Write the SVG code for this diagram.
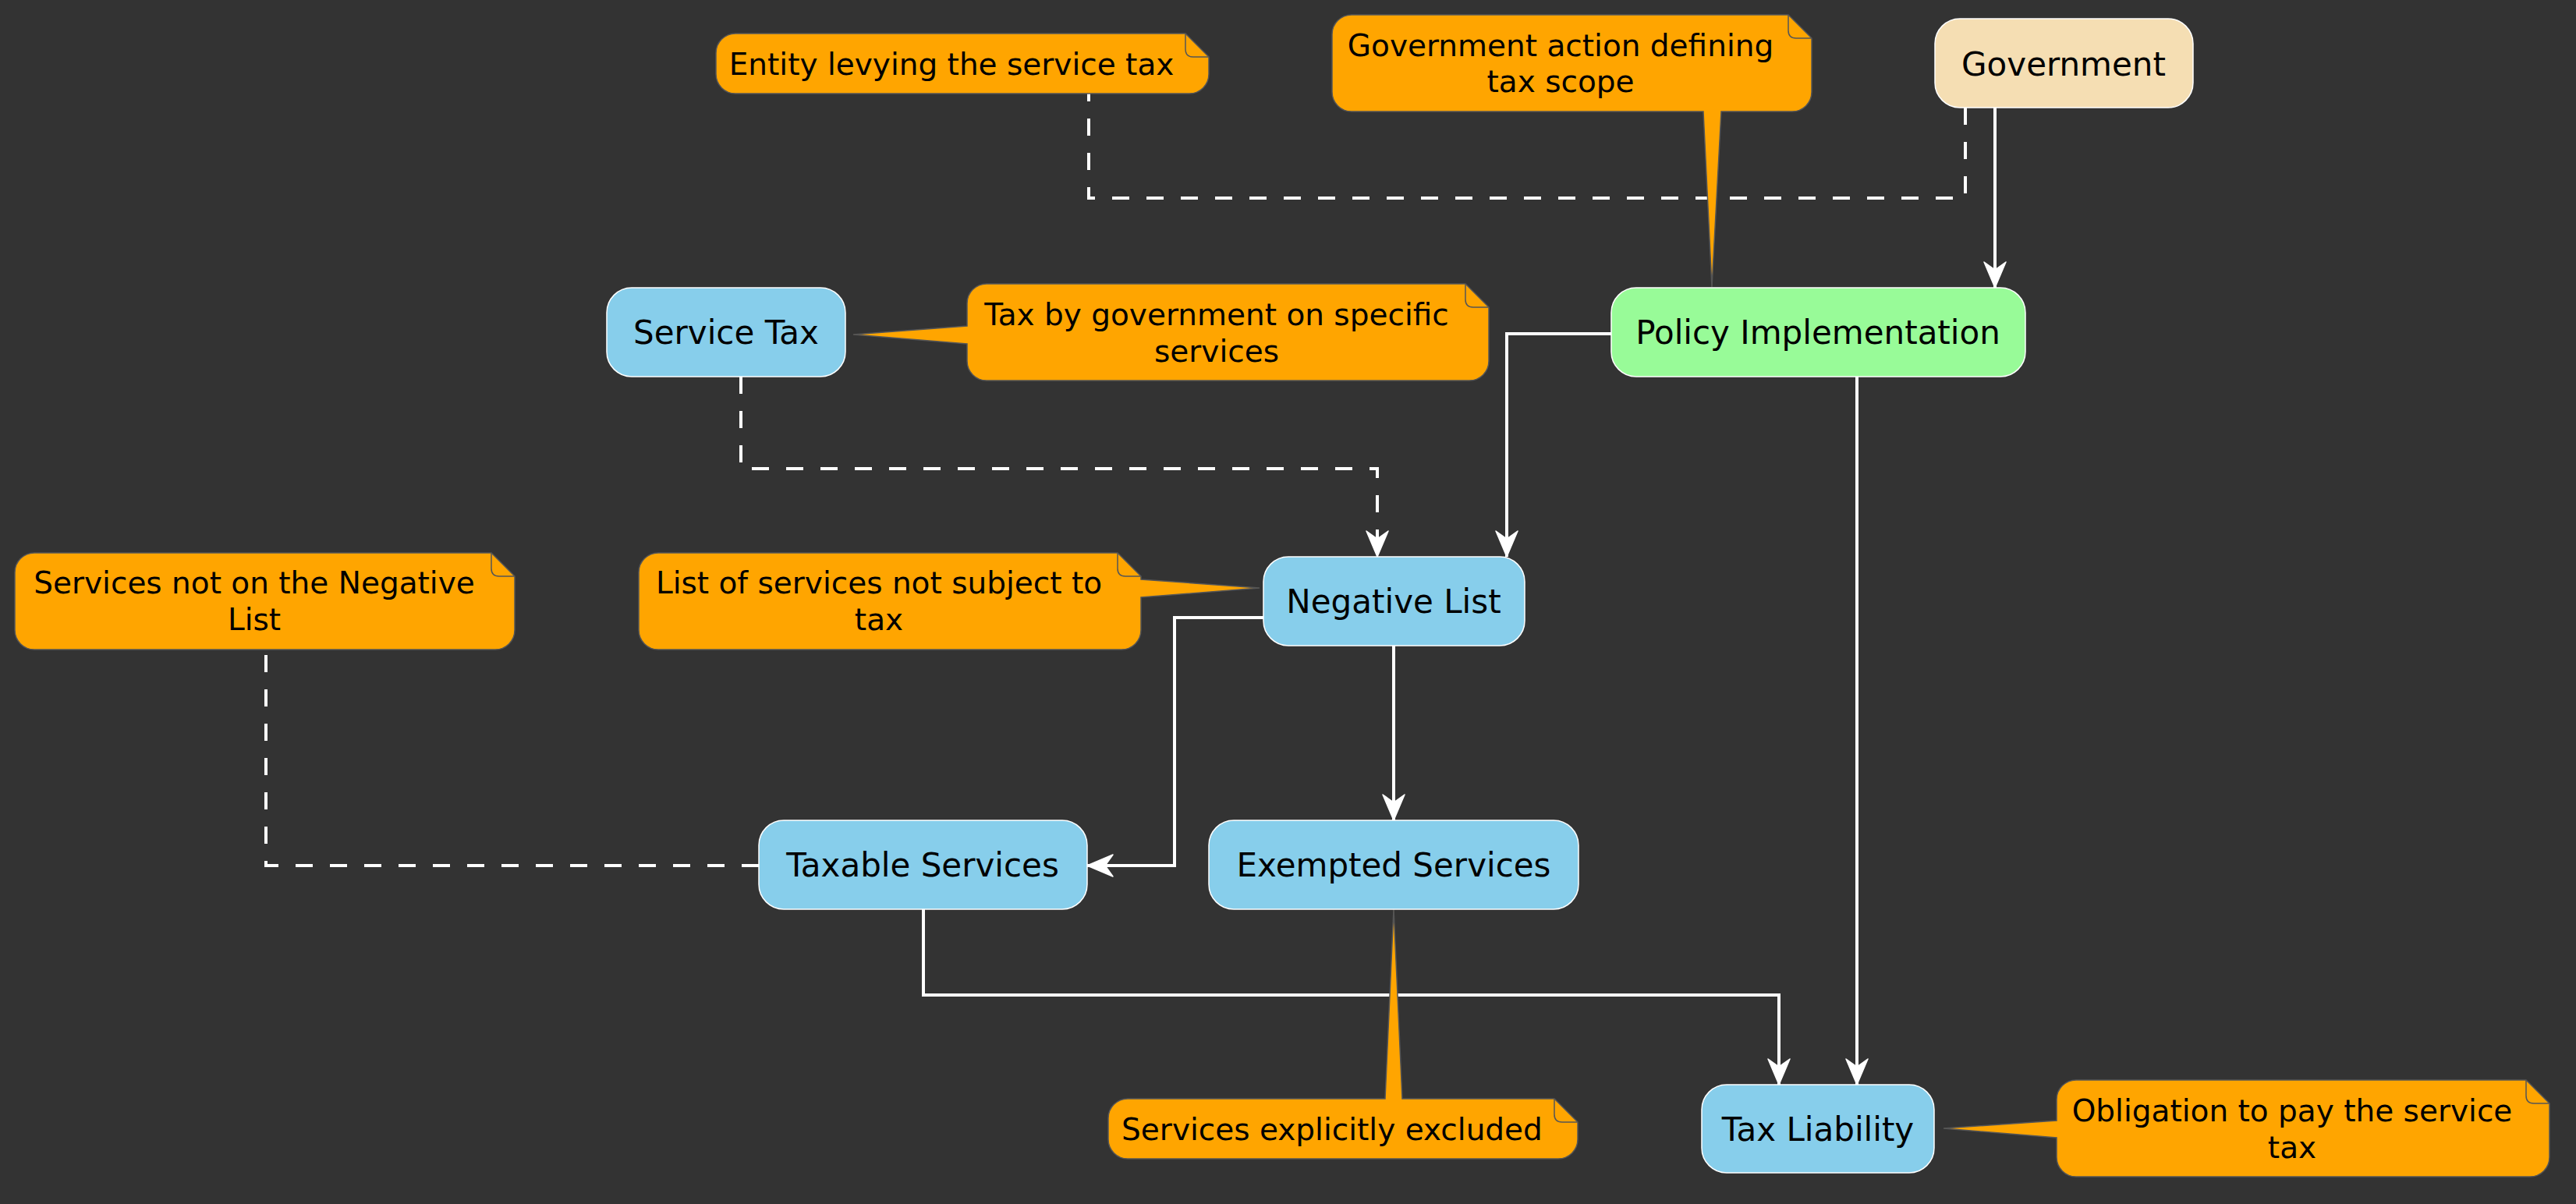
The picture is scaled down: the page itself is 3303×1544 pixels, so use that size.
<svg xmlns="http://www.w3.org/2000/svg" width="3303" height="1544" viewBox="0 0 3303 1544">
<style>
.node rect{stroke:#ffffff;stroke-width:1.5}
.nt{font-family:"DejaVu Sans","Verdana",sans-serif;font-size:42px;fill:#000;text-anchor:middle}
.note path.body{fill:#FFA500;stroke:#555555;stroke-width:1.5}
.note path.fold{fill:none;stroke:#555555;stroke-width:1.5}
.nn{font-family:"DejaVu Sans","Verdana",sans-serif;font-size:39px;fill:#000;text-anchor:middle}
.conn path{fill:none;stroke:#ffffff;stroke-width:4}
.conn path.dash{stroke-dasharray:22,22}
</style>
<defs>
<marker id="arr" viewBox="0 0 36 30" refX="34" refY="15" markerWidth="36" markerHeight="30" orient="auto" markerUnits="userSpaceOnUse">
<path d="M34,15 L1,1 L11,15 L1,29 Z" fill="#ffffff" stroke="#ffffff" stroke-width="1.5" stroke-linejoin="round"/>
</marker>
</defs>
<rect x="0" y="0" width="3303" height="1544" fill="#333333"/>

<g id="connectors" class="conn">
<path class="dash" d="M2520,138 L2520,254 L1396,254 L1396,120"/>
<path d="M2558,138 L2558,369" marker-end="url(#arr)"/>
<path class="dash" d="M950,483 L950,601 L1766,601 L1766,714" marker-end="url(#arr)"/>
<path d="M2066,428 L1932,428 L1932,714" marker-end="url(#arr)"/>
<path d="M2381,483 L2381,1391" marker-end="url(#arr)"/>
<path d="M1620,792 L1506,792 L1506,1110 L1394,1110" marker-end="url(#arr)"/>
<path d="M1787,828 L1787,1052" marker-end="url(#arr)"/>
<path d="M1184,1166 L1184,1276 L2281,1276 L2281,1391" marker-end="url(#arr)"/>
<path class="dash" d="M973,1110 L341,1110 L341,833"/>
</g>

<g id="note-entity" class="note">
<path class="body" d="M943,43 L1520,43 L1550,73 L1550,95 A25,25 0 0 1 1525,120 L943,120 A25,25 0 0 1 918,95 L918,68 A25,25 0 0 1 943,43 Z"/>
<path class="fold" d="M1520,43 L1520,63 Q1520,73 1530,73 L1550,73"/>
<text class="nn" x="1220" y="96">Entity levying the service tax</text>
</g>

<g id="note-gov-action" class="note">
<path class="body" d="M1733,19 L2293,19 L2323,49 L2323,118 A25,25 0 0 1 2298,143 L2207,143 L2195,368 L2184,143 L1733,143 A25,25 0 0 1 1708,118 L1708,44 A25,25 0 0 1 1733,19 Z"/>
<path class="fold" d="M2293,19 L2293,39 Q2293,49 2303,49 L2323,49"/>
<text class="nn" x="2001" y="72">Government action defining</text>
<text class="nn" x="2001" y="118">tax scope</text>
</g>

<g id="note-tax-gov" class="note">
<path class="body" d="M1265,364 L1879,364 L1909,394 L1909,463 A25,25 0 0 1 1884,488 L1265,488 A25,25 0 0 1 1240,463 L1240,441 L1094,429 L1240,418 L1240,389 A25,25 0 0 1 1265,364 Z"/>
<path class="fold" d="M1879,364 L1879,384 Q1879,394 1889,394 L1909,394"/>
<text class="nn" x="1560" y="417">Tax by government on specific</text>
<text class="nn" x="1560" y="464">services</text>
</g>

<g id="note-list" class="note">
<path class="body" d="M844,709 L1433,709 L1463,739 L1463,743 L1615,754 L1463,766 L1463,808 A25,25 0 0 1 1438,833 L844,833 A25,25 0 0 1 819,808 L819,734 A25,25 0 0 1 844,709 Z"/>
<path class="fold" d="M1433,709 L1433,729 Q1433,739 1443,739 L1463,739"/>
<text class="nn" x="1127" y="761">List of services not subject to</text>
<text class="nn" x="1127" y="808">tax</text>
</g>

<g id="note-not-on-list" class="note">
<path class="body" d="M44,709 L630,709 L660,739 L660,808 A25,25 0 0 1 635,833 L44,833 A25,25 0 0 1 19,808 L19,734 A25,25 0 0 1 44,709 Z"/>
<path class="fold" d="M630,709 L630,729 Q630,739 640,739 L660,739"/>
<text class="nn" x="326" y="761">Services not on the Negative</text>
<text class="nn" x="326" y="808">List</text>
</g>

<g id="note-excluded" class="note">
<path class="body" d="M1446,1409 L1776,1409 L1787,1166 L1798,1409 L1993,1409 L2023,1439 L2023,1461 A25,25 0 0 1 1998,1486 L1446,1486 A25,25 0 0 1 1421,1461 L1421,1434 A25,25 0 0 1 1446,1409 Z"/>
<path class="fold" d="M1993,1409 L1993,1429 Q1993,1439 2003,1439 L2023,1439"/>
<text class="nn" x="1708" y="1462">Services explicitly excluded</text>
</g>

<g id="note-obligation" class="note">
<path class="body" d="M2662,1385 L3239,1385 L3269,1415 L3269,1484 A25,25 0 0 1 3244,1509 L2662,1509 A25,25 0 0 1 2637,1484 L2637,1459 L2492,1447 L2637,1437 L2637,1410 A25,25 0 0 1 2662,1385 Z"/>
<path class="fold" d="M3239,1385 L3239,1405 Q3239,1415 3249,1415 L3269,1415"/>
<text class="nn" x="2939" y="1438">Obligation to pay the service</text>
<text class="nn" x="2939" y="1485">tax</text>
</g>

<g id="government" class="node">
<rect x="2481" y="24" width="331" height="114" rx="32" ry="32" fill="#F5DEB3"/>
<text class="nt" x="2646" y="97">Government</text>
</g>

<g id="policy-implementation" class="node">
<rect x="2066" y="369" width="531" height="114" rx="32" ry="32" fill="#98FB98"/>
<text class="nt" x="2331" y="441">Policy Implementation</text>
</g>

<g id="service-tax" class="node">
<rect x="778" y="369" width="306" height="114" rx="32" ry="32" fill="#87CEEB"/>
<text class="nt" x="931" y="441">Service Tax</text>
</g>

<g id="negative-list" class="node">
<rect x="1620" y="714" width="335" height="114" rx="32" ry="32" fill="#87CEEB"/>
<text class="nt" x="1787" y="786">Negative List</text>
</g>

<g id="taxable-services" class="node">
<rect x="973" y="1052" width="421" height="114" rx="32" ry="32" fill="#87CEEB"/>
<text class="nt" x="1183" y="1124">Taxable Services</text>
</g>

<g id="exempted-services" class="node">
<rect x="1550" y="1052" width="474" height="114" rx="32" ry="32" fill="#87CEEB"/>
<text class="nt" x="1787" y="1124">Exempted Services</text>
</g>

<g id="tax-liability" class="node">
<rect x="2182" y="1391" width="298" height="113" rx="32" ry="32" fill="#87CEEB"/>
<text class="nt" x="2331" y="1463">Tax Liability</text>
</g>
</svg>
